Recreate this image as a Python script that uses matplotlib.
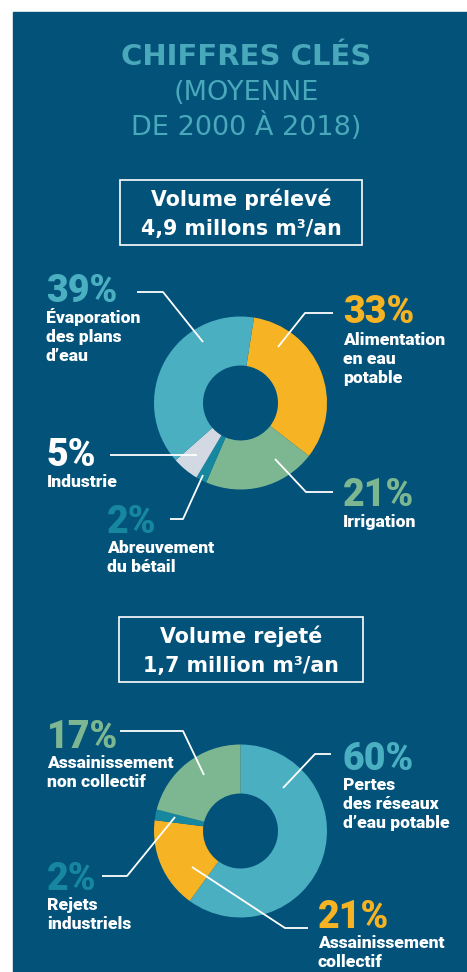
import matplotlib
matplotlib.use('Agg')
import matplotlib.pyplot as plt
from matplotlib.patches import Rectangle

# --- data -------------------------------------------------------------
# volume prélevé (4,9 millions m3/an), clockwise from the top
preleve_names = ['Alimentation\nen eau\npotable', 'Irrigation',
                 'Abreuvement\ndu bétail', 'Industrie',
                 'Évaporation\ndes plans\nd\u2019eau']
preleve_pct = [33, 21, 2, 5, 39]

# volume rejeté (1,7 million m3/an), wedge shares as drawn in the source
rejete_names = ['Pertes\ndes réseaux\nd\u2019eau potable', 'Assainissement\ncollectif',
                'Rejets\nindustriels', 'Assainissement\nnon collectif']
rejete_pct = [60, 21, 2, 17]
rejete_drawn = [60, 17, 2, 21]

title_lines = ['CHIFFRES CLÉS', '(MOYENNE', 'DE 2000 À 2018)']
box1_lines = ['Volume prélevé', '4,9 millons m³/an']
box2_lines = ['Volume rejeté', '1,7 million m³/an']

# --- style ------------------------------------------------------------
W, H = 467, 972
NAVY = '#02527a'
TEAL = '#4bafc2'
ORANGE = '#f6b323'
GREEN = '#7db792'
GRAY = '#d3d9e2'
DTEAL = '#17879f'
TITLE_C = '#4aa8bb'

preleve_colors = [ORANGE, GREEN, DTEAL, GRAY, TEAL]
preleve_txt_colors = [ORANGE, GREEN, DTEAL, 'white', TEAL]
rejete_colors = [TEAL, ORANGE, DTEAL, GREEN]
rejete_txt_colors = [TEAL, ORANGE, DTEAL, GREEN]

LABEL_FONT = ['Roboto', 'DejaVu Sans']


def Y(y):
    # pixel row (from top) -> axis coordinate
    return H - y


fig = plt.figure(figsize=(W / 100, H / 100), dpi=100)
fig.patch.set_facecolor('white')
ax = fig.add_axes([0, 0, 1, 1])

ax.add_patch(Rectangle((13, 0), W - 13, Y(12), color=NAVY, zorder=0))

# title
for txt, yb, wt, fs in zip(title_lines, [65, 100, 135],
                           ['bold', 'normal', 'normal'], [21, 19.5, 19.5]):
    ax.text(246, Y(yb), txt, ha='center', va='baseline', color=TITLE_C,
            fontsize=fs, fontweight=wt, family='DejaVu Sans')

# framed headers
def header(lines, x0, x1, y0, y1, baselines):
    ax.add_patch(Rectangle((x0, Y(y1)), x1 - x0, y1 - y0, fill=False,
                           edgecolor='white', lw=1.2, zorder=3))
    for txt, yb in zip(lines, baselines):
        ax.text((x0 + x1) / 2, Y(yb), txt, ha='center', va='baseline',
                color='white', fontsize=14.8, fontweight='bold',
                family='DejaVu Sans')

header(box1_lines, 120, 362, 180, 245, [206, 235])
header(box2_lines, 119, 363, 617, 682, [643, 672])

# donuts
R_OUT, R_IN = 86.5, 37.5
ax.pie(preleve_pct, colors=preleve_colors, startangle=81, counterclock=False,
       center=(240.5, Y(403)), radius=R_OUT, frame=True,
       wedgeprops=dict(width=R_OUT - R_IN, linewidth=0))
ax.pie(rejete_drawn, colors=rejete_colors, startangle=90, counterclock=False,
       center=(240.5, Y(831)), radius=R_OUT, frame=True,
       wedgeprops=dict(width=R_OUT - R_IN, linewidth=0))

# label placement: (x, pct baseline, first text baseline, leader polyline)
preleve_layout = [
    (343, 323, 345, [(333, 313), (305, 313), (278, 347)]),
    (343, 506, 527, [(333, 492), (306, 492), (275, 459)]),
    (107, 533, 553, [(170, 519), (183, 519), (203, 475)]),
    (47, 466, 487, [(110, 455), (197, 455)]),
    (46, 302, 323, [(137, 292), (163, 292), (203, 342)]),
]
rejete_layout = [
    (343, 770, 790, [(331, 754), (315, 754), (283, 788)]),
    (318, 928, 948, [(308, 928), (285, 928), (192, 867)]),
    (47, 890, 910, [(102, 876), (127, 876), (175, 817)]),
    (47, 748, 768, [(120, 731), (183, 731), (204, 775)]),
]


def draw_labels(names, pcts, colors, layout):
    for name, pct, col, (x, yp, yt, pts) in zip(names, pcts, colors, layout):
        ax.text(x, Y(yp), f'{pct}%', ha='left', va='baseline', color=col,
                fontsize=27, fontweight='black', family=LABEL_FONT)
        for i, line in enumerate(name.split('\n')):
            ax.text(x, Y(yt + 19 * i), line, ha='left', va='baseline',
                    color='white', fontsize=12.6, fontweight='heavy',
                    family=LABEL_FONT)
        ax.plot([p[0] for p in pts], [Y(p[1]) for p in pts], color='white',
                lw=1.3, solid_capstyle='butt', zorder=4)


draw_labels(preleve_names, preleve_pct, preleve_txt_colors, preleve_layout)
draw_labels(rejete_names, rejete_pct, rejete_txt_colors, rejete_layout)

ax.set_xlim(0, W)
ax.set_ylim(0, H)
ax.set_aspect('auto')
ax.axis('off')

fig.savefig('out.png', dpi=100, facecolor='white')
